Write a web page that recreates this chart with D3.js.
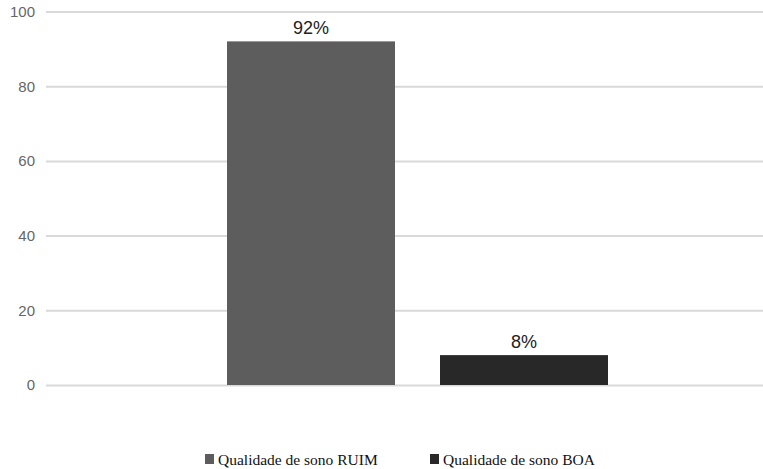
<!DOCTYPE html>
<html>
<head>
<meta charset="utf-8">
<script src="https://cdn.jsdelivr.net/npm/d3@7"></script>
<style>
  html, body { margin: 0; padding: 0; background: #fff; }
  svg { display: block; }
</style>
</head>
<body>
<svg id="chart" width="763" height="469"></svg>
<script>
// Sleep quality distribution
const seriesNames = ["Qualidade de sono RUIM", "Qualidade de sono BOA"];
const seriesValues = [92, 8];
const seriesColors = ["#5d5d5d", "#282828"];
const yTicks = [0, 20, 40, 60, 80, 100];

const svg = d3.select("#chart");
const W = 763;

const y = d3.scaleLinear().domain([0, 100]).range([385, 11.5]);
const x = d3.scaleBand()
  .domain(seriesNames)
  .range([227, 608])
  .paddingInner(45 / 213)
  .paddingOuter(0);

// Horizontal grid lines
const yAxis = d3.axisLeft(y).tickValues(yTicks).tickSize(0).tickPadding(0);
const gAxis = svg.append("g").attr("transform", "translate(46,0)").call(yAxis);
gAxis.select(".domain").remove();
gAxis.selectAll(".tick line")
  .attr("x1", 0).attr("x2", W - 46)
  .attr("stroke", "#d9d9d9").attr("stroke-width", 2);
gAxis.selectAll(".tick text")
  .attr("x", -11)
  .attr("font-family", "'Liberation Sans', Arial, sans-serif")
  .attr("font-size", 15)
  .attr("fill", "#666");

// Bars
svg.append("g").selectAll("rect")
  .data(seriesNames)
  .join("rect")
  .attr("x", d => x(d))
  .attr("width", x.bandwidth())
  .attr("y", (d, i) => y(seriesValues[i]))
  .attr("height", (d, i) => y(0) - y(seriesValues[i]))
  .attr("fill", (d, i) => seriesColors[i]);

// Value labels
svg.append("g").selectAll("text")
  .data(seriesNames)
  .join("text")
  .attr("x", d => x(d) + x.bandwidth() / 2)
  .attr("y", (d, i) => y(seriesValues[i]) - 7)
  .attr("text-anchor", "middle")
  .attr("font-family", "'Liberation Sans', Arial, sans-serif")
  .attr("font-size", 18)
  .attr("fill", "#222")
  .text((d, i) => seriesValues[i] + "%");

// Legend
const legendX = [205, 430];
const legend = svg.append("g").selectAll("g")
  .data(seriesNames)
  .join("g")
  .attr("transform", (d, i) => `translate(${legendX[i]},0)`);
legend.append("rect")
  .attr("x", 0).attr("y", 454)
  .attr("width", 9).attr("height", 10)
  .attr("fill", (d, i) => seriesColors[i]);
legend.append("text")
  .attr("x", 13).attr("y", 465)
  .attr("font-family", "'Liberation Serif', 'Times New Roman', serif")
  .attr("font-size", 15.5)
  .attr("fill", "#111")
  .text(d => d);
</script>
</body>
</html>
